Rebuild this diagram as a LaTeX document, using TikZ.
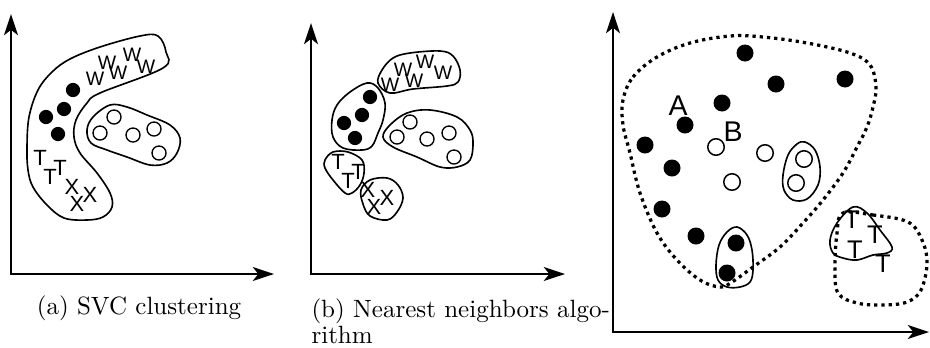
\documentclass[tikz,border=0pt]{standalone}
\usepackage{fontspec}
\newfontfamily\sansf{Liberation Sans}
\usetikzlibrary{arrows.meta}
\begin{document}
\begin{tikzpicture}[x=0.4pt,y=-0.4pt,
  axis/.style={line width=0.8pt,{Stealth[length=8.5pt,width=5.6pt,inset=2.2pt]}-{Stealth[length=8.5pt,width=5.6pt,inset=2.2pt]}},
  blob/.style={line width=0.65pt},
  dotblob/.style={line width=1.3pt,dash pattern=on 1.3pt off 1.6pt},
  fdot/.style={circle,fill=black,inner sep=0pt,minimum size=5.7pt},
  odot/.style={circle,draw=black,line width=0.55pt,inner sep=0pt,minimum size=5.6pt},
  bfdot/.style={circle,fill=black,inner sep=0pt,minimum size=6.8pt},
  bodot/.style={circle,draw=black,line width=0.6pt,inner sep=0pt,minimum size=6.6pt},
  lt/.style={inner sep=0pt,font=\sansf\fontsize{8.8}{9}\selectfont},
  lw/.style={inner sep=0pt,font=\sansf\fontsize{7.8}{9}\selectfont},
  lc/.style={inner sep=0pt,font=\sansf\fontsize{10.2}{11}\selectfont},
  lab/.style={inner sep=0pt,font=\sansf\fontsize{11.4}{12}\selectfont},
  capt/.style={inner sep=0pt,font=\fontsize{10}{12}\selectfont}]
\useasboundingbox (0,0) rectangle (930,347);

% ---------------- panel (a) ----------------
\coordinate (aY) at (11,14);
\coordinate (aX) at (274,274);
\draw[axis] (aY) |- (aX);

\draw[blob] plot[smooth cycle,tension=0.6] coordinates {
  (158,36) (166,52) (163,68) (100,93) (87,103) (76,120) (74,137) (80,153)
  (97,173) (110,193) (112,207) (103,217) (87,220) (64,218) (47,205)
  (33,187) (28,170) (27,147) (29,117) (38,90) (52,72) (70,59) (100,47) (140,36)};
\draw[blob] plot[smooth cycle,tension=0.6] coordinates {
  (87,130) (93,117) (110,105) (127,107) (147,115) (170,125) (180,138)
  (177,153) (167,163) (150,165) (127,157) (107,150) (91,143)};

\node[fdot] (a1) at (73,90) {};
\node[fdot] (a2) at (64,109) {};
\node[fdot] (a3) at (46,117) {};
\node[fdot] (a4) at (58,134) {};

\node[odot] (ao1) at (114,117) {};
\node[odot] (ao2) at (100,133) {};
\node[odot] (ao3) at (133,135) {};
\node[odot] (ao4) at (154,129) {};
\node[odot] (ao5) at (159,153) {};

\node[lw] (aw1) at (95,79) {W};
\node[lw] (aw2) at (107,63) {W};
\node[lw] (aw3) at (118,73) {W};
\node[lw] (aw4) at (132,55) {W};
\node[lw] (aw5) at (146,67) {W};

\node[lt] (at1) at (40,158) {T};
\node[lt] (at2) at (50,177) {T};
\node[lt] (at3) at (60,168) {T};
\node[lt] (ax1) at (72,187) {X};
\node[lt] (ax2) at (77,204) {X};
\node[lt] (ax3) at (90,195) {X};

\node[capt,anchor=base] (capa) at (139,314) {(a) SVC clustering};

% ---------------- panel (b) ----------------
\coordinate (bY) at (311,23);
\coordinate (bX) at (565,274);
\draw[axis] (bY) |- (bX);

\draw[blob] plot[smooth cycle,tension=0.6] coordinates {
  (378,83) (382,70) (393,58) (410,53) (440,51) (453,56) (460,70) (458,82)
  (447,86) (413,89) (390,93)};
\draw[blob] plot[smooth cycle,tension=0.6] coordinates {
  (332,120) (337,105) (350,92) (367,83) (378,88) (385,103) (383,120)
  (378,133) (372,146) (362,150) (343,148) (333,137)};
\draw[blob] plot[smooth cycle,tension=0.6] coordinates {
  (383,137) (390,125) (407,113) (430,110) (457,117) (470,130) (473,143)
  (470,160) (457,167) (440,167) (417,157) (393,147)};
\draw[blob] plot[smooth cycle,tension=0.6] coordinates {
  (325,160) (333,152) (348,152) (362,160) (364,173) (360,185) (352,193)
  (345,193) (333,180) (325,168)};
\draw[blob] plot[smooth cycle,tension=0.6] coordinates {
  (361,190) (370,180) (387,178) (398,185) (403,198) (397,212) (387,220)
  (370,216) (363,204)};

\node[lw] (bw1) at (390,85) {W};
\node[lw] (bw2) at (403,70) {W};
\node[lw] (bw3) at (414,81) {W};
\node[lw] (bw4) at (425,62) {W};
\node[lw] (bw5) at (443,73) {W};

\node[fdot] (b1) at (370,97) {};
\node[fdot] (b2) at (362,115) {};
\node[fdot] (b3) at (344,123) {};
\node[fdot] (b4) at (355,138) {};

\node[odot] (bo1) at (410,122) {};
\node[odot] (bo2) at (397,137) {};
\node[odot] (bo3) at (427,139) {};
\node[odot] (bo4) at (449,133) {};
\node[odot] (bo5) at (454,157) {};

\node[lt] (bt1) at (338,162) {T};
\node[lt] (bt2) at (348,181) {T};
\node[lt] (bt3) at (358,172) {T};
\node[lt] (bx1) at (368,190) {X};
\node[lt] (bx2) at (374,207) {X};
\node[lt] (bx3) at (387,198) {X};

\node[capt,anchor=base west] (capb1) at (311,317) {(b) Nearest neighbors algo-};
\node[capt,anchor=base west] (capb2) at (311,343) {rithm};

% ---------------- panel (c) ----------------
\coordinate (cY) at (613,12);
\coordinate (cX) at (929,332);
\draw[axis] (cY) |- (cX);

\draw[dotblob] plot[smooth cycle,tension=0.6] coordinates {
  (623,100) (633,77) (657,57) (690,43) (730,36) (763,37) (807,43) (850,53)
  (870,65) (876,87) (873,107) (867,127) (857,147) (843,173) (823,200)
  (803,223) (780,247) (753,267) (732,282) (720,287) (700,280) (677,260)
  (657,233) (640,193) (630,153) (623,125)};

\node[bfdot] (c1) at (745,53) {};
\node[bfdot] (c2) at (776,84) {};
\node[bfdot] (c3) at (845,79) {};
\node[bfdot] (c4) at (722,103) {};
\node[bfdot] (c5) at (685,125) {};
\node[bfdot] (c6) at (645,145) {};
\node[bfdot] (c7) at (672,168) {};
\node[bfdot] (c8) at (662,209) {};
\node[bfdot] (c9) at (696,236) {};
\node[bfdot] (c10) at (736,243) {};
\node[bfdot] (c11) at (727,273) {};

\node[bodot] (co1) at (716,147) {};
\node[bodot] (co2) at (765,153) {};
\node[bodot] (co3) at (732,182) {};
\node[bodot] (co4) at (804,159) {};
\node[bodot] (co5) at (796,183) {};

\draw[blob] plot[smooth cycle,tension=0.6] coordinates {
  (805,142) (815,150) (820,167) (818,185) (807,199) (793,200) (784,190)
  (783,175) (788,155) (797,144)};
\draw[blob] plot[smooth cycle,tension=0.6] coordinates {
  (737,227) (747,235) (752,250) (753,270) (750,282) (740,287) (727,287)
  (718,280) (716,265) (719,245) (727,232)};

\node[lab] (lA) at (678,106) {A};
\node[lab] (lB) at (733,132) {B};

\draw[blob] plot[smooth cycle,tension=0.6] coordinates {
  (830,240) (837,223) (853,207) (867,213) (880,230) (892,247) (887,253)
  (873,255) (857,260) (843,258) (833,253)};
\draw[dotblob] plot[smooth cycle,tension=0.6] coordinates {
  (843,213) (873,215) (908,222) (922,240) (927,263) (921,290) (907,302)
  (883,305) (857,303) (838,293) (835,267) (837,233)};

\node[lc] (ct1) at (852,220) {T};
\node[lc] (ct2) at (875,235) {T};
\node[lc] (ct3) at (855,250) {T};
\node[lc] (ct4) at (883,264) {T};
\end{tikzpicture}
\end{document}
